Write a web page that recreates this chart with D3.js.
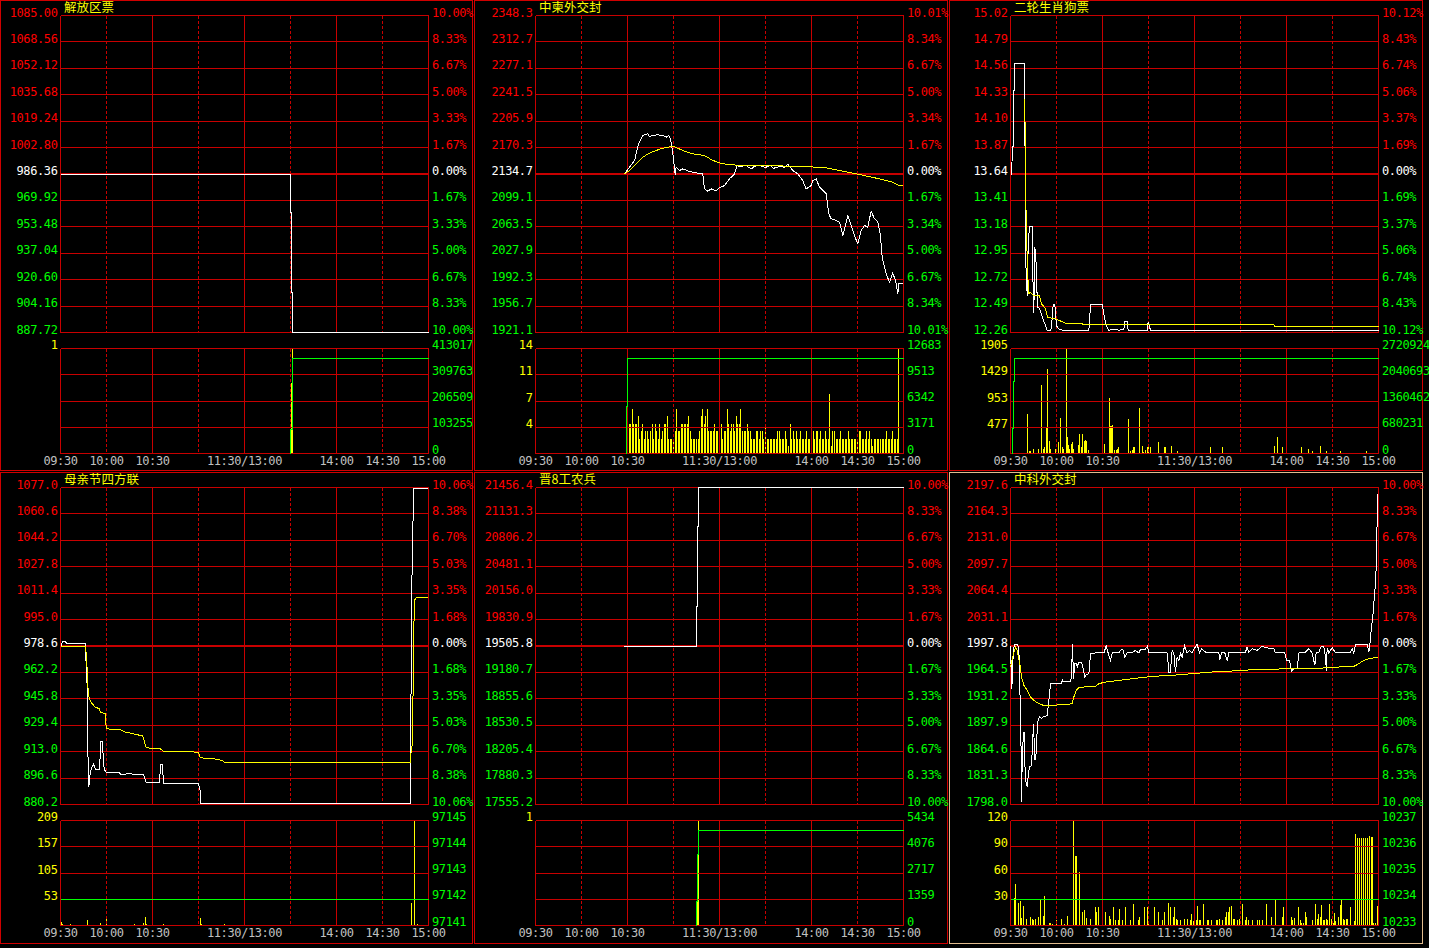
<!DOCTYPE html>
<html><head><meta charset="utf-8">
<script src="https://cdn.jsdelivr.net/npm/d3@7"></script>
<style>html,body{margin:0;padding:0;background:#000;}svg{display:block;}</style>
</head><body>
<svg id="chart" width="1429" height="948"></svg>
<script>
// ---------------- DATA ----------------
const titles = ["解放区票","中柬外交封","二轮生肖狗票","母亲节四方联","晋8工农兵","中科外交封"];
const timeLabelText = ["09:30","10:00","10:30","11:30/13:00","14:00","14:30","15:00"];
const timeLabelMinute = [0,30,60,120,180,210,240];

// Panel 1
const priceLabels1 = ["1085.00","1068.56","1052.12","1035.68","1019.24","1002.80","986.36","969.92","953.48","937.04","920.60","904.16","887.72"];
const pctLabels1 = ["10.00%","8.33%","6.67%","5.00%","3.33%","1.67%","0.00%","1.67%","3.33%","5.00%","6.67%","8.33%","10.00%"];
const volLeft1 = ["1"];
const volRight1 = ["413017","309763","206509","103255","0"];
const price1 = [[0,986.36],[149.8,986.36],[149.8,962.2],[150.8,962.2],[150.8,912.4],[151.4,912.4],[151.4,887.72],[240,887.72]];
const avg1 = [];
const vol1 = [[150.8,0.675],[151.4,1]];
const amt1 = [[149.8,0],[149.8,94700],[151.2,94700],[151.2,373600],[240,373600]];

// Panel 2
const priceLabels2 = ["2348.3","2312.7","2277.1","2241.5","2205.9","2170.3","2134.7","2099.1","2063.5","2027.9","1992.3","1956.7","1921.1"];
const pctLabels2 = ["10.01%","8.34%","6.67%","5.00%","3.34%","1.67%","0.00%","1.67%","3.34%","5.00%","6.67%","8.34%","10.01%"];
const volLeft2 = ["14","11","7","4"];
const volRight2 = ["12683","9513","6342","3171","0"];
const price2 = [[58,2134.7],[61.3,2143.9],[64.6,2152.9],[67.2,2175.4],[70,2186.6],[73.3,2188.8],[74.3,2185.2],[76.5,2186.6],[79.8,2187.5],[83,2186.6],[85.2,2184.3],[87,2186.6],[88,2182.1],[89.6,2161.9],[91.1,2134.0],[91.7,2143.9],[93.9,2139.4],[96.1,2141.7],[100.4,2138.1],[104.8,2136.3],[109.1,2134.9],[110.2,2114.7],[112.4,2111.6],[114.6,2114.7],[117.8,2111.6],[120,2116.1],[123.3,2119.2],[126.5,2128.2],[129.8,2134.9],[131.5,2146.2],[133,2144.4],[135.2,2145.3],[137,2146.7],[139.6,2143.0],[141,2142.1],[143,2145.3],[146.1,2146.2],[148,2144.4],[150.4,2143.9],[153,2146.2],[155,2142.6],[157,2143.0],[160,2145.7],[162,2143.4],[164.6,2147.5],[167.8,2139.4],[171.1,2134.9],[174.3,2125.9],[176.5,2114.7],[179.8,2119.2],[180.9,2125.9],[183,2128.2],[185.2,2117.0],[187.4,2112.5],[189.6,2108.0],[191.3,2081.0],[192.8,2074.3],[196.1,2072.0],[198.3,2069.8],[200.4,2051.8],[202.6,2069.8],[203.7,2078.8],[205.9,2065.3],[208,2051.8],[210.2,2040.6],[212.4,2058.6],[214.6,2065.3],[216.7,2063.1],[218.9,2084.6],[221.1,2074.3],[223.3,2069.8],[224.8,2054.1],[226.1,2022.6],[227.6,2009.2],[229.1,1997.9],[230.9,1988.9],[233,2001.1],[234.8,1991.2],[236.3,1973.2],[237,1987.6],[239.6,1987.6]];
const avg2 = [[58,2134.7],[61.3,2139.4],[65.7,2148.4],[70,2157.4],[74.3,2162.8],[78.7,2166.4],[83,2169.5],[89.6,2172.2],[96.1,2166.4],[102.6,2161.9],[110.2,2159.6],[115.7,2152.9],[122.2,2148.4],[130.9,2146.6],[146.1,2145.7],[172.2,2145.3],[189.6,2143.0],[200.4,2138.5],[211.3,2134.0],[222.2,2129.1],[233,2123.7],[237,2119.2],[239.6,2118.8]];
const vol2Start = 60;
const vol2Values = [4,4,4,6,4,4,4,5,2,3, 4,2,3,3,2,3,4,2,4,3, 2,4,2,3,4,4,5,2,2,2, 2,3,6,3,3,4,4,4,4,4, 5,3,2,2,2,2,2,3,5,6, 4,5,6,3,3,3,3,4,3,3, 4,4,2,3,3,6,4,3,4,4, 3,5,4,4,6,3,3,3,4,3, 3,2,2,2,3,3,2,3,
  3,2,4,2,2,2,2,2,2,2, 3,3,2,2,2,3,2,1,4,2, 3,2,3,2,2,3,2,2,2,3, 2,2,2,3,2,3,3,2,3,2, 2,3,2,2, 8,
  1,3,3,2,2,2,3,2,2,2, 2,3,2,2,2,2,2,2,3,3, 2,2,2,3,2,3,2,1,2,2, 2,2,2,2,2,2,3,2,2,2, 3,2,2,2, 14];
const amt2 = [[59.6,0],[59.6,5690],[60.2,5690],[60.2,11470],[240,11470]];

// Panel 3
const priceLabels3 = ["15.02","14.79","14.56","14.33","14.10","13.87","13.64","13.41","13.18","12.95","12.72","12.49","12.26"];
const pctLabels3 = ["10.12%","8.43%","6.74%","5.06%","3.37%","1.69%","0.00%","1.69%","3.37%","5.06%","6.74%","8.43%","10.12%"];
const volLeft3 = ["1905","1429","953","477"];
const volRight3 = ["2720924","2040693","1360462","680231","0"];
const price3 = [[0,13.64],[0.9,13.64],[1.1,13.88],[1.8,13.88],[2.2,14.37],[2.6,14.37],[2.8,14.60],[9.1,14.60],[9.3,14.15],[10.2,12.69],[11.1,12.58],[11.5,13.03],[12.4,13.18],[14.1,13.18],[14.8,12.60],[15.2,12.43],[15.9,13.00],[16.7,12.86],[17.6,12.48],[18.9,12.47],[20.2,12.42],[21.7,12.36],[22.8,12.32],[23.9,12.28],[26.3,12.28],[27.2,12.38],[27.8,12.50],[28.9,12.50],[30,12.32],[31.5,12.29],[33.7,12.28],[51.1,12.28],[52.2,12.50],[59.8,12.50],[60.9,12.42],[62.4,12.32],[64.1,12.28],[68.5,12.29],[70.7,12.28],[73.9,12.29],[74.6,12.36],[76.1,12.36],[76.7,12.28],[89.1,12.28],[89.8,12.35],[91.3,12.28],[240,12.28]];
const avg3 = [[9.3,14.29],[9.8,13.70],[10.2,13.24],[10.7,13.00],[11.3,12.74],[12,12.60],[13,12.61],[15.2,12.58],[18.9,12.58],[20.2,12.51],[22.8,12.47],[24.3,12.39],[29.3,12.38],[35.9,12.34],[46.7,12.34],[47.2,12.33],[171.7,12.33],[172.2,12.31],[240,12.31]];
const vol3 = [[11.1,710],[12.6,42],[13.3,42],[15.2,85],[18.3,85],[20.2,1238],[21.7,85],[22.4,115],[23.5,479],[24.1,1529],[25.4,224],[26.1,85],[29.3,85],[31.5,206],[32.6,643],[33.7,115],[34.8,85],[36.5,1905],[37.2,297],[38,146],[38.7,85],[39.6,176],[40.7,206],[41.3,85],[44.6,146],[45.2,358],[46.3,115],[47,346],[48.3,224],[49.1,237],[49.8,224],[51.1,55],[61.5,176],[64.6,1007],[65,491],[65.9,491],[66.7,510],[67.8,55],[68.9,55],[70,85],[70.7,115],[77.2,619],[78.3,42],[79.3,55],[80.4,115],[81.1,115],[84.1,825],[85.9,133],[87,24],[88,55],[89.1,115],[90.2,115],[91.3,115],[96.7,206],[100.7,115],[101.1,115],[105,133],[108.9,42],[130.4,115],[138,115],[172.2,133],[174.1,297],[177.2,115],[189.8,115],[194.6,85],[196.7,42],[202.2,133],[205.9,42],[215.2,42],[232.2,42]];
const amt3 = [[1.5,0],[1.5,641000],[2.2,641000],[2.2,1854000],[2.8,1854000],[2.8,2461000],[240,2461000]];

// Panel 4
const priceLabels4 = ["1077.0","1060.6","1044.2","1027.8","1011.4","995.0","978.6","962.2","945.8","929.4","913.0","896.6","880.2"];
const pctLabels4 = ["10.06%","8.38%","6.70%","5.03%","3.35%","1.68%","0.00%","1.68%","3.35%","5.03%","6.70%","8.38%","10.06%"];
const volLeft4 = ["209","157","105","53"];
const volRight4 = ["97145","97144","97143","97142","97141"];
const price4 = [[0.4,978.6],[1.3,981.5],[3.5,981.5],[3.7,980.1],[16.5,980.1],[16.7,965.5],[17.2,962.4],[17.6,934.5],[18,905.5],[18.5,891.0],[19.3,899.3],[20.4,903.4],[21.5,905.1],[23,902.0],[25.4,902.0],[25.9,910.6],[26.3,919.6],[27.4,919.6],[27.8,910.6],[28.5,902.0],[29.8,900.3],[31.3,899.9],[38.5,899.9],[39.3,898.8],[42.2,898.8],[42.8,899.3],[54.1,898.8],[55.9,893.7],[64.6,893.7],[65.2,904.8],[66.5,904.8],[67.2,893.0],[90,893.0],[91.1,888.9],[91.5,880.8],[228,880.8],[228.5,929.9],[228.9,1003.9],[229.8,1052.6],[230.4,1076.4],[239.8,1076.4]];
const avg4 = [[0.4,978.6],[16.5,978.6],[16.7,973.4],[17.6,961.4],[18,951.0],[18.5,946.9],[19.8,943.8],[22.6,940.7],[25.4,939.6],[25.9,937.6],[29.3,936.5],[29.8,927.2],[38.9,926.6],[42.2,925.2],[47.6,924.1],[53.7,922.7],[55.9,915.4],[65,914.8],[67.2,913.3],[78,913.1],[90,912.7],[91.1,909.2],[99.8,908.6],[105.9,907.5],[106.7,906.5],[228,906.5],[228.5,911.7],[229.3,916.9],[230.2,962.4],[230.7,1007.0],[232,1008.4],[239.8,1008.4]];
const vol4 = [[0.4,7],[1.5,3],[6.5,3],[17.6,10],[26.3,5],[29.8,15],[48.3,3],[54.1,5],[55.4,17],[56.3,3],[67.2,3],[91.3,15],[92,3],[107,3],[229.1,45],[230.9,209],[232.8,3]];
const amt4 = [[0,97142],[240,97142]];

// Panel 5
const priceLabels5 = ["21456.4","21131.3","20806.2","20481.1","20156.0","19830.9","19505.8","19180.7","18855.6","18530.5","18205.4","17880.3","17555.2"];
const pctLabels5 = ["10.00%","8.33%","6.67%","5.00%","3.33%","1.67%","0.00%","1.67%","3.33%","5.00%","6.67%","8.33%","10.00%"];
const volLeft5 = ["1"];
const volRight5 = ["5434","4076","2717","1359","0"];
const price5 = [[58,19505.8],[105,19505.8],[105,19994.5],[105.9,19994.5],[105.9,20971.8],[106.5,20971.8],[106.5,21456.4],[240,21456.4]];
const avg5 = [];
const vol5 = [[105.9,0.68],[106.5,1]];
const amt5 = [[105,0],[105,1246],[105.9,1246],[105.9,3686],[106.5,3686],[106.5,4915],[240,4915]];

// Panel 6
const priceLabels6 = ["2197.6","2164.3","2131.0","2097.7","2064.4","2031.1","1997.8","1964.5","1931.2","1897.9","1864.6","1831.3","1798.0"];
const pctLabels6 = ["10.00%","8.33%","6.67%","5.00%","3.33%","1.67%","0.00%","1.67%","3.33%","5.00%","6.67%","8.33%","10.00%"];
const volLeft6 = ["120","90","60","30"];
const volRight6 = ["10237","10236","10235","10234","10233"];
const price6 = [[0,1997.8],[0.4,1971.3],[0.9,1944.0],[1.3,1971.3],[2,1992.3],[2.6,1999.9],[4.8,1999.9],[5.2,1992.3],[5.7,1983.9],[6.1,1958.7],[6.5,1874.6],[7,1870.3],[7.2,1800.9],[7.6,1849.3],[8,1870.3],[8.5,1889.3],[8.9,1889.3],[9.3,1849.3],[10.2,1824.1],[11.1,1819.9],[11.5,1834.6],[12.4,1845.1],[13.7,1847.2],[15,1899.8],[15.9,1853.5],[16.7,1861.9],[17.6,1899.8],[18,1904.0],[18.9,1909.0],[20.2,1906.1],[21.1,1908.2],[22.4,1909.0],[23.9,1910.3],[25,1929.2],[26.1,1950.3],[29.3,1951.1],[33.3,1951.1],[33.7,1955.3],[34.3,1952.4],[39.1,1953.2],[39.8,1958.7],[40.4,1999.9],[41.1,1956.6],[42,1975.5],[42.8,1976.3],[43.5,1971.3],[44.6,1977.6],[46.3,1977.6],[47.2,1971.3],[48.5,1958.7],[49.6,1962.0],[51.1,1962.9],[52.2,1988.1],[55.4,1989.0],[60.9,1989.0],[62.4,1997.8],[63.5,1990.2],[65.2,1979.7],[66.3,1989.0],[68.5,1990.2],[70.7,1989.0],[71.7,1992.3],[73.3,1993.6],[74.6,1983.9],[76.1,1989.0],[79.3,1989.4],[81.5,1992.3],[83.7,1989.0],[84.8,1993.6],[88,1993.6],[89.3,1997.8],[90.2,1990.2],[101.1,1990.2],[102.2,1989.0],[103.3,1965.0],[104.3,1965.0],[105.4,1992.3],[106.5,1989.0],[107.6,1965.0],[108.7,1983.9],[109.8,1978.9],[110.9,1989.0],[112,1983.9],[113.5,1997.8],[115.2,1989.0],[116.7,1992.3],[118.5,1989.0],[120.2,1995.7],[121.7,1999.9],[123.3,1989.0],[124.6,1994.4],[127.2,1990.2],[128.9,1989.0],[135.9,1989.0],[136.5,1979.7],[137.6,1989.0],[139.8,1989.0],[141.3,1979.7],[142.4,1989.0],[148.9,1989.0],[153.3,1990.2],[154.3,1996.5],[155.4,1990.2],[157.6,1994.4],[160.9,1992.3],[164.1,1997.8],[166.3,1995.7],[171.7,1994.4],[172.8,1989.0],[178.9,1989.0],[180,1979.7],[182,1979.7],[183.3,1965.8],[184.8,1969.2],[187,1969.2],[188,1989.0],[192.4,1990.2],[194.6,1994.4],[196.7,1989.0],[198.5,1973.4],[199.3,1989.0],[201.1,1989.0],[202.2,1996.5],[204.3,1997.8],[205.4,1983.9],[206.1,1965.8],[206.5,1995.7],[207.6,1989.0],[209.8,1995.7],[212,1989.0],[218.5,1989.0],[221.7,1990.2],[222.8,1994.4],[223.9,1989.0],[225,1999.9],[232.6,1999.9],[233.7,1990.2],[234.8,2007.1],[235.4,2021.8],[236.3,2034.4],[237,2053.3],[237.6,2059.6],[238,2091.2],[238.7,2093.3],[239.1,2158.5],[239.6,2190.0]];
const avg6 = [[0,1971.3],[2.2,1990.2],[3.3,1996.5],[4.3,1992.3],[6.1,1975.5],[7.2,1958.7],[8.7,1948.2],[10.9,1941.9],[13,1933.4],[15.2,1929.2],[18.5,1925.0],[21.7,1922.9],[25,1922.1],[31.5,1923.8],[37,1924.2],[40.2,1925.0],[41.3,1933.4],[42.8,1941.9],[44.6,1945.2],[47.8,1946.1],[55.4,1946.9],[57.6,1950.3],[62,1952.4],[70.7,1954.5],[79.3,1956.6],[92.4,1959.5],[105.4,1960.8],[118.5,1962.9],[131.5,1965.0],[144.6,1966.3],[157.6,1967.9],[170.7,1968.4],[179.3,1969.2],[192.4,1969.6],[203.3,1970.0],[214.1,1971.3],[223.9,1972.1],[227.2,1975.5],[230.4,1979.7],[233.7,1981.8],[239.8,1983.9]];
const vol6 = [[2.6,32],[3.3,47],[5.2,26],[6.3,28],[7,9],[8.3,22],[10.4,8],[12.8,10],[14.1,8],[14.8,6],[16.1,8],[18,10],[19.3,30],[21.3,11],[22.2,34],[25.4,3],[26.1,3],[27.4,2],[30,6],[33.3,8],[35.2,2],[37.2,11],[41.1,120],[42.6,80],[43.3,80],[44.8,61],[47,16],[48.3,18],[49.6,9],[52.2,7],[55.4,21],[56.1,16],[57.4,21],[60,25],[62,15],[64.6,11],[65.2,8],[67.2,21],[68.5,6],[70.4,6],[71.1,19],[73,6],[75,21],[78.3,6],[80.2,25],[83.5,6],[84.1,10],[87.4,21],[89.3,21],[90,5],[93.9,21],[96.5,16],[99.1,6],[100.4,16],[103,26],[104.3,21],[106.3,10],[107,21],[108.3,7],[108.9,6],[110.9,6],[113.5,7],[115.4,7],[117.4,6],[118,13],[119.3,5],[120,6],[121.3,6],[122,22],[123.3,6],[123.9,6],[125.9,25],[128.5,6],[129.2,6],[131.1,6],[134.4,6],[135,6],[136.3,7],[138.3,6],[140.2,10],[140.9,15],[142.2,15],[142.8,21],[144.2,22],[145.5,8],[146.1,8],[148.1,6],[149.4,8],[151.3,25],[153.3,6],[153.9,10],[155.2,6],[157.8,6],[161.1,6],[162.4,6],[164.4,6],[167,25],[170.2,10],[172.8,30],[177.4,10],[178.1,21],[180,8],[183.3,10],[183.9,6],[185.2,9],[187.8,21],[189.2,6],[189.8,3],[191.1,3],[192.4,15],[193.1,10],[197,6],[198.9,25],[200.2,8],[200.9,13],[202.2,10],[202.8,24],[204.2,6],[204.8,6],[206.1,8],[206.8,6],[208.1,25],[209.4,8],[210.7,3],[211.3,14],[212,5],[213.9,10],[215.2,23],[215.9,29],[217.2,8],[217.8,6],[219.2,8],[219.8,8],[221.8,21],[224.4,5],[225,105],[226.3,100],[227.6,100],[228.9,100],[230.2,100],[231.5,100],[232.8,100],[234.2,102],[235.5,101],[236.1,101],[236.8,3],[238.1,3],[239.4,22]];
const amt6 = [[0,10234],[240,10234]];

// ---------------- BUILD ----------------
const panels = [
  {title:titles[0], priceLabels:priceLabels1, pctLabels:pctLabels1, volLeft:volLeft1, volRight:volRight1, price:price1, avg:avg1, vol:vol1, amt:amt1},
  {title:titles[1], priceLabels:priceLabels2, pctLabels:pctLabels2, volLeft:volLeft2, volRight:volRight2, price:price2, avg:avg2, vol:vol2Values.map((v,i)=>[vol2Start+i,v]), amt:amt2},
  {title:titles[2], priceLabels:priceLabels3, pctLabels:pctLabels3, volLeft:volLeft3, volRight:volRight3, price:price3, avg:avg3, vol:vol3, amt:amt3},
  {title:titles[3], priceLabels:priceLabels4, pctLabels:pctLabels4, volLeft:volLeft4, volRight:volRight4, price:price4, avg:avg4, vol:vol4, amt:amt4},
  {title:titles[4], priceLabels:priceLabels5, pctLabels:pctLabels5, volLeft:volLeft5, volRight:volRight5, price:price5, avg:avg5, vol:vol5, amt:amt5},
  {title:titles[5], priceLabels:priceLabels6, pctLabels:pctLabels6, volLeft:volLeft6, volRight:volRight6, price:price6, avg:avg6, vol:vol6, amt:amt6}
];

const svg = d3.select("#chart");
svg.append("rect").attr("width",1429).attr("height",948).attr("fill","#000");

const GRID = "#C80000";
const NUMFONT = "'DejaVu Sans Mono', monospace";
const CJKFONT = "'Noto Sans CJK SC', sans-serif";
const colLeft = [0.5, 474.5, 949.5], colRight = [472.5, 947.5, 1422.5];
const rowTop = [0.5, 472.5], rowBottom = [470.5, 943.5];
const levelColor = i => i < 6 ? "#FF0000" : (i === 6 ? "#FFFFFF" : "#00FF00");

panels.forEach((p, idx) => {
  const c = idx % 3, r = Math.floor(idx / 3);
  const ox = c * 475, oy = r * 472;
  const g = svg.append("g");
  const L = 60.5 + ox, R = 428.5 + ox;
  const PT = 15.5 + oy, PB = 332.5 + oy, VT = 348.5 + oy, VB = 453.5 + oy;
  const x = d3.scaleLinear().domain([0, 240]).range([L, R]);
  const yP = d3.scaleLinear().domain([+p.priceLabels[12], +p.priceLabels[0]]).range([PB, PT]);
  const volMax = +p.volLeft[0];
  const yV = d3.scaleLinear().domain([0, volMax]).range([VB, VT]);
  const yA = d3.scaleLinear().domain([+p.volRight[4], +p.volRight[0]]).range([VB, VT]);

  // outer frame
  const selected = (c === 2 && r === 1);
  g.append("rect")
    .attr("x", colLeft[c]).attr("y", rowTop[r])
    .attr("width", colRight[c] - colLeft[c]).attr("height", rowBottom[r] - rowTop[r])
    .attr("fill", "none").attr("stroke", selected ? "#E2BC8E" : "#D00000")
    .attr("stroke-width", 1).attr("shape-rendering", "crispEdges");

  // volume bars
  g.append("g").selectAll("rect").data(p.vol).join("rect")
    .attr("x", d => Math.floor(x(d[0])))
    .attr("y", d => yV(d[1]))
    .attr("width", 1)
    .attr("height", d => VB - yV(d[1]))
    .attr("fill", "#FFFF00").attr("shape-rendering", "crispEdges");

  // grids
  const grid = g.append("g").attr("shape-rendering", "crispEdges");
  p.priceLabels.forEach((lab, i) => {
    const yy = yP(+lab);
    grid.append("line").attr("x1", L).attr("x2", R).attr("y1", yy).attr("y2", yy)
      .attr("stroke", GRID).attr("stroke-width", i === 6 ? 2 : 1);
  });
  d3.range(5).forEach(i => {
    const yy = yV(volMax * i / 4);
    grid.append("line").attr("x1", L).attr("x2", R).attr("y1", yy).attr("y2", yy)
      .attr("stroke", GRID);
  });
  d3.range(0, 241, 30).forEach((m, i) => {
    const xx = x(m);
    [[PT, PB], [VT, VB]].forEach(([a, b]) => {
      grid.append("line").attr("x1", xx).attr("x2", xx).attr("y1", a).attr("y2", b)
        .attr("stroke", GRID)
        .attr("stroke-dasharray", i % 2 === 1 ? "3,2" : null);
    });
  });

  // green line in volume area
  const lineA = d3.line().x(d => x(d[0])).y(d => yA(d[1]));
  g.append("path").attr("d", lineA(p.amt)).attr("fill", "none")
    .attr("stroke", "#00FF00").attr("stroke-width", 1).attr("shape-rendering", "crispEdges");

  // price + average
  const lineP = d3.line().x(d => x(d[0])).y(d => yP(d[1]));
  g.append("path").attr("d", lineP(p.price)).attr("fill", "none")
    .attr("stroke", "#FFFFFF").attr("stroke-width", 1).attr("shape-rendering", "crispEdges");
  if (p.avg.length) {
    g.append("path").attr("d", lineP(p.avg)).attr("fill", "none")
      .attr("stroke", "#FFFF00").attr("stroke-width", 1).attr("shape-rendering", "crispEdges");
  }

  // labels
  const txt = g.append("g").attr("font-family", NUMFONT).attr("font-size", 12)
    .attr("letter-spacing", "-0.4px");
  p.priceLabels.forEach((lab, i) => {
    txt.append("text").attr("x", 57.5 + ox).attr("y", yP(+lab) + 1)
      .attr("text-anchor", "end").attr("fill", levelColor(i)).text(lab);
  });
  p.pctLabels.forEach((lab, i) => {
    txt.append("text").attr("x", 432 + ox).attr("y", yP(+p.priceLabels[i]) + 1)
      .attr("fill", levelColor(i)).text(lab);
  });
  p.volLeft.forEach((lab, i) => {
    txt.append("text").attr("x", 57.5 + ox).attr("y", yV(volMax * (4 - i) / 4) + 0.5)
      .attr("text-anchor", "end").attr("fill", "#FFFF00").text(lab);
  });
  p.volRight.forEach((lab) => {
    txt.append("text").attr("x", 432 + ox).attr("y", yA(+lab))
      .attr("fill", "#00FF00").text(lab);
  });
  timeLabelText.forEach((lab, i) => {
    txt.append("text").attr("x", x(timeLabelMinute[i])).attr("y", 464.5 + oy)
      .attr("text-anchor", "middle").attr("fill", "#C0C0C0").text(lab);
  });

  // title
  g.append("text").attr("x", 64 + ox).attr("y", 12 + oy)
    .attr("font-family", CJKFONT).attr("font-size", 12.5)
    .attr("fill", "#FFFF00").text(p.title);
});
</script>
</body></html>
